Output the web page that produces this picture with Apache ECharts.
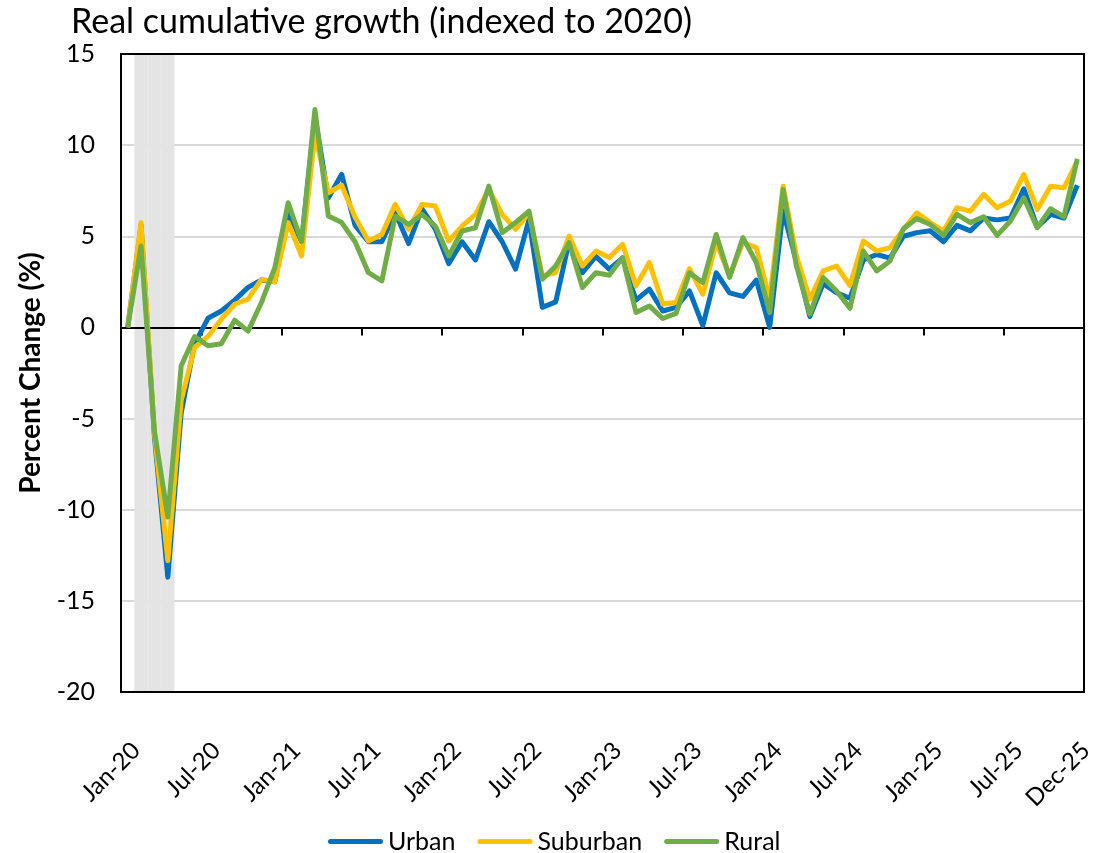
<!DOCTYPE html>
<html>
<head>
<meta charset="utf-8">
<script src="https://cdn.jsdelivr.net/npm/echarts@6/dist/echarts.min.js"></script>
<style>
  html, body { margin: 0; padding: 0; background: #fff; }
  #chart { width: 1107px; height: 853px; }
</style>
</head>
<body>
<div id="chart"></div>
<script>
// months Jan-20 .. Dec-25
var monthNames = ['Jan', 'Feb', 'Mar', 'Apr', 'May', 'Jun', 'Jul', 'Aug', 'Sep', 'Oct', 'Nov', 'Dec'];
var years = ['20', '21', '22', '23', '24', '25'];
var tickLabels = ['Jan-20', 'Jul-20', 'Jan-21', 'Jul-21', 'Jan-22', 'Jul-22', 'Jan-23',
    'Jul-23', 'Jan-24', 'Jul-24', 'Jan-25', 'Jul-25', 'Dec-25'];
var shadedMonths = ['Feb-20', 'Mar-20', 'Apr-20'];

var urban = [
    0, 5.6, -6.0, -13.7, -4.7, -0.9, 0.5, 0.9, 1.5, 2.2, 2.6, 2.5,
    6.3, 4.7, 11.6, 7.1, 8.4, 5.6, 4.7, 4.7, 6.3, 4.6, 6.5, 5.4,
    3.5, 4.7, 3.7, 5.8, 4.7, 3.2, 5.9, 1.1, 1.4, 4.7, 3.0, 3.9,
    3.2, 3.8, 1.5, 2.1, 0.9, 1.1, 2.0, 0.1, 3.0, 1.9, 1.7, 2.6,
    0.0, 6.4, 3.6, 0.6, 2.4, 1.9, 1.6, 3.7, 4.0, 3.8, 5.0, 5.2,
    5.3, 4.7, 5.6, 5.3, 6.0, 5.9, 6.0, 7.6, 5.5, 6.2, 6.0, 7.8
];
var suburban = [
    0, 5.75, -5.8, -12.8, -4.0, -1.1, -0.5, 0.45, 1.27, 1.55, 2.64, 2.5,
    5.75, 3.92, 10.6, 7.39, 7.8, 6.05, 4.74, 5.1, 6.75, 5.38, 6.75, 6.66,
    4.74, 5.56, 6.2, 7.57, 6.2, 5.38, 6.3, 2.83, 3.0, 5.01, 3.37, 4.19,
    3.83, 4.56, 2.28, 3.56, 1.28, 1.37, 3.23, 1.82, 4.65, 2.83, 4.65, 4.38,
    1.55, 7.75, 3.92, 1.55, 3.1, 3.37, 2.3, 4.74, 4.19, 4.38, 5.38, 6.29,
    5.75, 5.29, 6.57, 6.38, 7.3, 6.57, 6.93, 8.39, 6.47, 7.75, 7.66, 9.12
];
var rural = [
    0, 4.47, -5.7, -10.4, -2.1, -0.5, -1.0, -0.9, 0.4, -0.2, 1.37, 3.28,
    6.84, 4.7, 11.95, 6.11, 5.75, 4.7, 3.0, 2.55, 6.1, 5.65, 6.2, 5.56,
    3.92, 5.29, 5.47, 7.75, 5.2, 5.75, 6.38, 2.64, 3.37, 4.65, 2.19, 3.0,
    2.86, 3.83, 0.82, 1.18, 0.49, 0.77, 3.0, 2.46, 5.1, 2.74, 4.93, 3.56,
    0.82, 7.57, 3.37, 0.73, 2.74, 2.0, 1.05, 4.19, 3.1, 3.65, 5.42, 5.97,
    5.65, 5.05, 6.2, 5.75, 6.07, 5.05, 5.84, 7.11, 5.47, 6.51, 6.07, 9.25
];

var yMin = -20, yMax = 15;

var months = [];
years.forEach(function (y) {
    monthNames.forEach(function (m) { months.push(m + '-' + y); });
});

// grey band: full-height columns over the shaded months
var bandTop = months.map(function (m) { return shadedMonths.indexOf(m) >= 0 ? yMax : null; });
var bandBottom = months.map(function (m) { return shadedMonths.indexOf(m) >= 0 ? yMin : null; });

var FONT = 'Lato';
var BAND = '#e4e4e4';
var chart = echarts.init(document.getElementById('chart'));

var option = {
    animation: false,
    textStyle: { fontFamily: FONT, color: '#000' },
    title: {
        text: 'Real cumulative growth (indexed to 2020)',
        left: 66,
        top: 0,
        textStyle: { fontFamily: FONT, fontSize: 34, fontWeight: 'normal', color: '#000' }
    },
    legend: {
        data: ['Urban', 'Suburban', 'Rural'],
        left: 323,
        top: 824,
        icon: 'path://M2.5,0 H52.5 A2.5,2.5 0 0 1 52.5,5 H2.5 A2.5,2.5 0 0 1 2.5,0 Z',
        itemWidth: 55,
        itemHeight: 5,
        itemGap: 22,
        textStyle: { fontFamily: FONT, fontSize: 25, color: '#000' }
    },
    grid: {
        left: 121,
        right: 23,
        top: 54,
        bottom: 161,
        show: true,
        borderColor: '#000',
        borderWidth: 2,
        z: 1.5
    },
    xAxis: [{
        type: 'category',
        data: months,
        boundaryGap: true,
        position: 'bottom',
        axisLine: { show: false, onZero: false },
        axisTick: { show: false },
        splitLine: { show: false },
        axisLabel: {
            interval: function (i, v) { return tickLabels.indexOf(v) >= 0; },
            rotate: 45,
            margin: 46,
            verticalAlign: 'top',
            fontFamily: FONT,
            fontSize: 24,
            color: '#000'
        }
    }, {
        type: 'category',
        data: months,
        boundaryGap: true,
        position: 'bottom',
        z: 1.6,
        axisLine: { show: true, onZero: true, lineStyle: { color: '#000', width: 2 } },
        axisTick: { show: true, interval: 5, length: 8, lineStyle: { color: '#000', width: 2 } },
        axisLabel: { show: false },
        splitLine: { show: false }
    }],
    yAxis: {
        type: 'value',
        min: yMin,
        max: yMax,
        interval: 5,
        name: 'Percent Change (%)',
        nameLocation: 'middle',
        nameGap: 76,
        nameTextStyle: { fontFamily: FONT, fontSize: 28, fontWeight: 'bold', color: '#000' },
        axisLine: { show: true, lineStyle: { color: '#000', width: 2 } },
        axisTick: { show: false },
        axisLabel: { fontFamily: FONT, fontSize: 25, color: '#000', margin: 26 },
        splitLine: { show: true, lineStyle: { color: '#d9d9d9', width: 2 } }
    },
    series: [{
        name: 'band-top',
        type: 'bar',
        stack: 'band',
        data: bandTop,
        barWidth: '100%',
        silent: true,
        z: 1,
        itemStyle: { color: BAND, borderColor: BAND, borderWidth: 1 }
    }, {
        name: 'band-bottom',
        type: 'bar',
        stack: 'band',
        data: bandBottom,
        barWidth: '100%',
        silent: true,
        z: 1,
        itemStyle: { color: BAND, borderColor: BAND, borderWidth: 1 }
    }, {
        name: 'Urban',
        type: 'line',
        data: urban,
        showSymbol: false,
        z: 3,
        lineStyle: { color: '#0070C0', width: 5, join: 'round' },
        itemStyle: { color: '#0070C0' }
    }, {
        name: 'Suburban',
        type: 'line',
        data: suburban,
        showSymbol: false,
        z: 3,
        lineStyle: { color: '#FFC000', width: 5, join: 'round' },
        itemStyle: { color: '#FFC000' }
    }, {
        name: 'Rural',
        type: 'line',
        data: rural,
        showSymbol: false,
        z: 3,
        lineStyle: { color: '#70AD47', width: 5, join: 'round' },
        itemStyle: { color: '#70AD47' }
    }]
};
chart.setOption(option);
</script>
</body>
</html>
